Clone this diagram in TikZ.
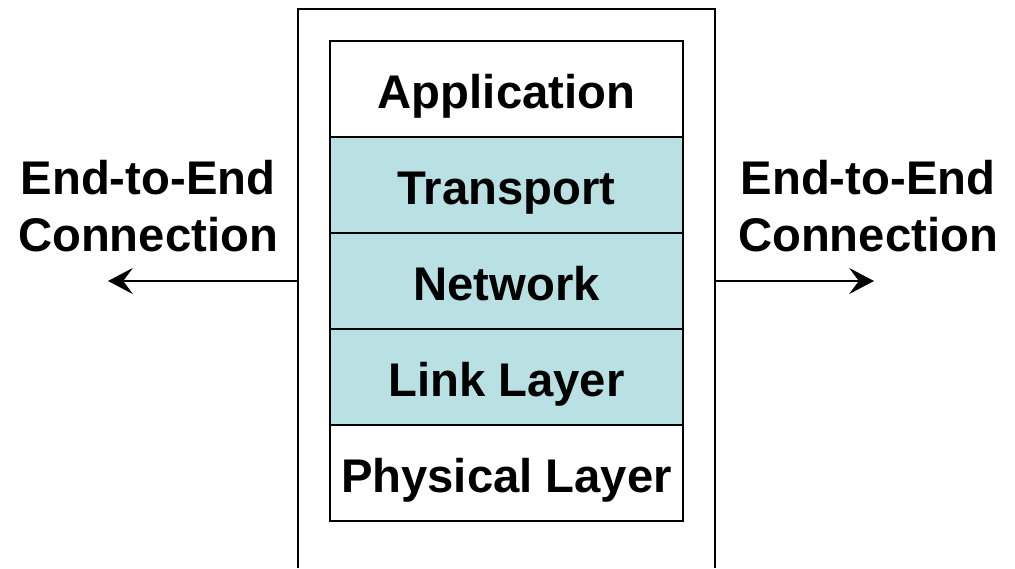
\documentclass[tikz,border=0pt]{standalone}
\usepackage{fontspec}
\setmainfont{Liberation Sans}
\usetikzlibrary{positioning,arrows.meta}
\definecolor{layerfill}{RGB}{185,224,227}
\begin{document}
\begin{tikzpicture}[x=0.025cm,y=-0.025cm,inner sep=0pt,outer sep=0pt,line width=1.4pt,
txt/.style={font=\bfseries\fontsize{33.6}{41}\selectfont},
layer/.style={draw,rectangle,minimum width=8.825cm,minimum height=2.4cm,text height=28pt,text depth=0pt,txt},
shaded/.style={layer,fill=layerfill},
endarrow/.style={-{Stealth[length=6.2mm,width=6.5mm,inset=2.4mm]}}]

\useasboundingbox (0,0) rectangle (1015,568);

% host box, open at the bottom
\coordinate (hostBL) at (298,568);
\coordinate (hostTL) at (298,9);
\coordinate (hostTR) at (715,9);
\coordinate (hostBR) at (715,568);
\draw (hostBL) -- (hostTL) -- (hostTR) -- (hostBR);

% protocol stack
\draw (506.5,89) node[layer] (app) {Application};
\node[shaded,below=0pt of app] (trans) {Transport};
\node[shaded,below=0pt of trans] (net) {Network};
\node[shaded,below=0pt of net] (link) {Link Layer};
\node[layer,below=0pt of link] (phys) {Physical Layer};

% end-to-end connection
\draw (148,206) node[txt,align=center] (lblL) {End-to-End\\Connection};
\draw (868,206) node[txt,align=center] (lblR) {End-to-End\\Connection};

\coordinate (hostL) at (298,281);
\coordinate (hostR) at (715,281);
\coordinate (endL) at (108,281);
\coordinate (endR) at (874,281);
\draw[endarrow] (hostL) -- (endL);
\draw[endarrow] (hostR) -- (endR);
\end{tikzpicture}
\end{document}
